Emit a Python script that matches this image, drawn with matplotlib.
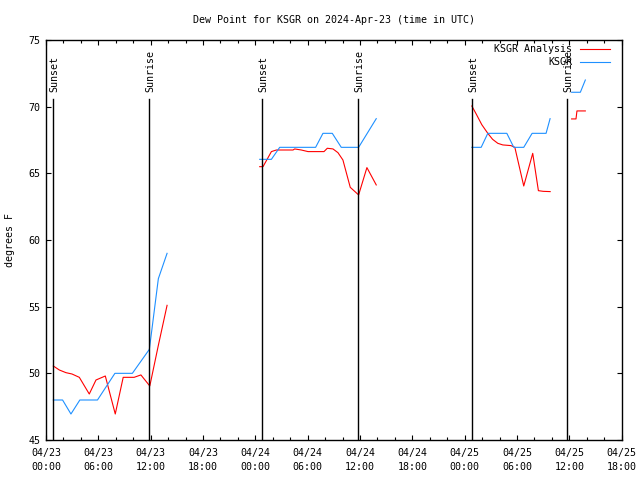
import numpy as np
import matplotlib
matplotlib.use('Agg')
import matplotlib.pyplot as plt
from matplotlib.ticker import MultipleLocator

# --- dados (horas desde 04/23 00:00 UTC) ---
nan = np.nan

analysis_hours = [0.84, 1.53, 2.29, 2.98, 3.82, 4.96, 5.73, 6.8, 7.94, 8.85, 10.1, 10.88, 11.9, 12.88, 13.88, nan,
                  24.5, 24.88, 25.84, 26.41, 28.32, 28.51, 29.27, 30.04, 31.87, 32.25, 32.9, 33.47, 34.04, 34.88,
                  35.84, 36.79, 37.86, nan,
                  48.82, 49.32, 49.96, 50.65, 51.2, 51.8, 52.37, 53.3, 53.75, 54.77, 55.8, 56.45, 57.0, 57.8, nan,
                  60.26, 60.76, 60.87, 61.83]
analysis_dewpt = [50.55, 50.25, 50.05, 49.95, 49.7, 48.45, 49.5, 49.8, 46.95, 49.7, 49.7, 49.88, 49.05, 52.1, 55.1, nan,
                  65.5, 65.5, 66.63, 66.75, 66.75, 66.83, 66.75, 66.63, 66.63, 66.88, 66.83, 66.55, 66.0, 63.95,
                  63.38, 65.43, 64.13, nan,
                  70.05, 69.45, 68.65, 68.0, 67.55, 67.25, 67.13, 67.08, 66.95, 64.05, 66.5, 63.7, 63.65, 63.63, nan,
                  69.08, 69.08, 69.68, 69.68]

obs_hours = [0.84, 1.9, 2.86, 3.88, 5.9, 7.9, 9.9, 11.85, 12.88, 13.88, nan,
             24.5, 25.84, 26.79, 30.91, 31.75, 32.82, 33.85, 35.84, 37.86, nan,
             48.82, 49.89, 50.65, 52.83, 53.63, 54.77, 55.73, 57.33, 57.79, nan,
             60.26, 61.26, 61.83]
obs_dewpt = [48.0, 48.0, 46.95, 48.0, 48.0, 50.0, 50.0, 51.8, 57.1, 59.0, nan,
             66.05, 66.05, 66.95, 66.95, 68.0, 68.0, 66.95, 66.95, 69.1, nan,
             66.95, 66.95, 68.0, 68.0, 66.95, 66.95, 68.0, 68.0, 69.1, nan,
             71.08, 71.08, 72.0]

sun_hours = [0.84, 11.83, 24.81, 35.77, 48.82, 59.73]
sun_labels = ['Sunset', 'Sunrise', 'Sunset', 'Sunrise', 'Sunset', 'Sunrise']

tick_hours = list(range(0, 67, 6))
tick_labels = ['04/23\n00:00', '04/23\n06:00', '04/23\n12:00', '04/23\n18:00',
               '04/24\n00:00', '04/24\n06:00', '04/24\n12:00', '04/24\n18:00',
               '04/25\n00:00', '04/25\n06:00', '04/25\n12:00', '04/25\n18:00']

# --- grafico ---
plt.rcParams['font.family'] = 'DejaVu Sans Mono'
plt.rcParams['font.size'] = 7.2

fig = plt.figure(figsize=(6.4, 4.8), dpi=100)
ax = fig.add_axes([46 / 640, 40 / 480, 575.7 / 640, 400 / 480])

ax.plot(analysis_hours, analysis_dewpt, color='red', lw=0.8, label='KSGR Analysis')
ax.plot(obs_hours, obs_dewpt, color='#1e90ff', lw=0.8, label='KSGR')

for h, lab in zip(sun_hours, sun_labels):
    ax.plot([h, h], [45, 70.55], color='black', lw=1.0)
    ax.text(h + 0.15, 71.1, lab, rotation=90, ha='center', va='bottom')

ax.set_xlim(0, 66)
ax.set_ylim(45, 75)
ax.set_xticks(tick_hours)
ax.set_xticklabels(tick_labels, linespacing=1.4)
ax.xaxis.set_minor_locator(MultipleLocator(2))
ax.yaxis.set_major_locator(MultipleLocator(5))

ax.tick_params(which='both', direction='in', top=True, right=True, labelsize=7.2)
ax.tick_params(which='major', length=3.5, width=0.8)
ax.tick_params(which='minor', length=2, width=0.8)
ax.tick_params(axis='x', pad=6)
ax.tick_params(axis='y', pad=4)
for s in ax.spines.values():
    s.set_linewidth(1.0)

# legenda no canto, como no original (encosta no rótulo Sunrise)
ax.legend(loc='upper right', bbox_to_anchor=(0.99, 1.005), frameon=False, markerfirst=False,
          fontsize=7.2, handlelength=3.0, handletextpad=0.8, borderaxespad=0.2, labelspacing=0.3)

fig.text(334 / 640, 1 - 20 / 480, 'Dew Point for KSGR on 2024-Apr-23 (time in UTC)',
         ha='center', va='center')
fig.text(10 / 640, 0.5, 'degrees F', rotation=90, ha='center', va='center')

fig.savefig('out.png', dpi=100)
